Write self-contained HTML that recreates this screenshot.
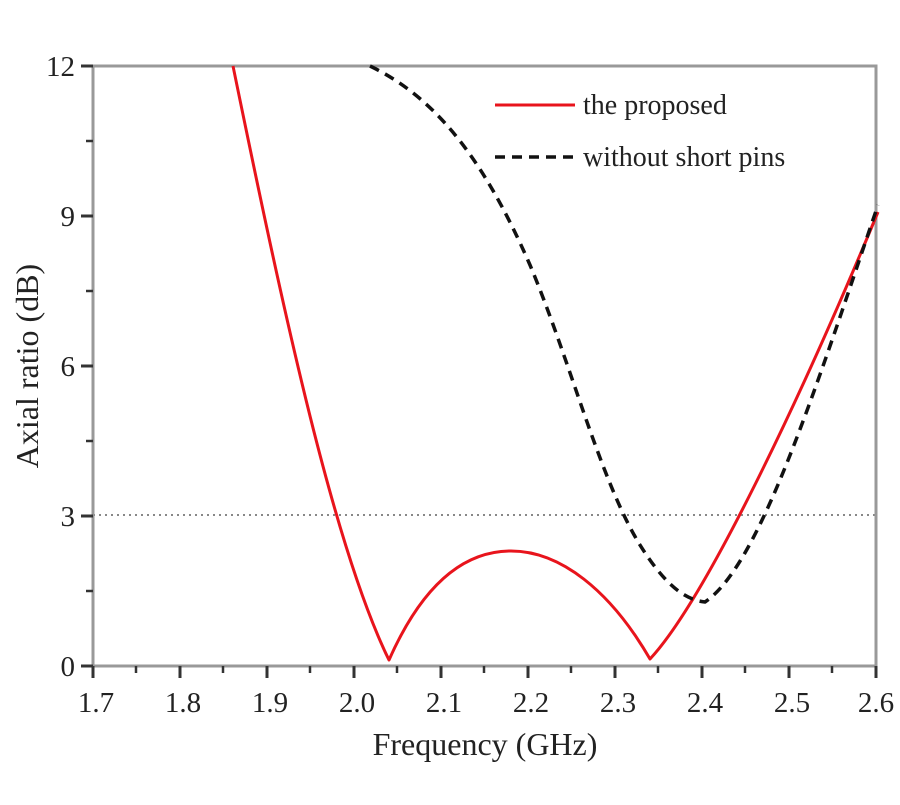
<!DOCTYPE html>
<html><head><style>body{margin:0;background:#fff}</style></head><body>
<svg width="900" height="800" xmlns="http://www.w3.org/2000/svg" font-family="Liberation Serif, serif">
<rect width="900" height="800" fill="#fff"/>
<line x1="93" y1="515" x2="876" y2="515" stroke="#888" stroke-width="2" stroke-dasharray="2,4"/>
<g stroke="#999" stroke-width="3" fill="none">
<rect x="93" y="66" width="783" height="600"/>
</g>
<g stroke="#333" stroke-width="3">
<line x1="93" y1="666" x2="93" y2="678"/><line x1="180" y1="666" x2="180" y2="678"/><line x1="267" y1="666" x2="267" y2="678"/><line x1="354" y1="666" x2="354" y2="678"/><line x1="441" y1="666" x2="441" y2="678"/><line x1="528" y1="666" x2="528" y2="678"/><line x1="615" y1="666" x2="615" y2="678"/><line x1="702" y1="666" x2="702" y2="678"/><line x1="789" y1="666" x2="789" y2="678"/><line x1="876" y1="666" x2="876" y2="678"/>
<line x1="81" y1="66" x2="93" y2="66"/><line x1="81" y1="216" x2="93" y2="216"/><line x1="81" y1="366" x2="93" y2="366"/><line x1="81" y1="516" x2="93" y2="516"/><line x1="81" y1="666" x2="93" y2="666"/>
</g>
<g stroke="#333" stroke-width="2.5">
<line x1="136" y1="666" x2="136" y2="673"/><line x1="223" y1="666" x2="223" y2="673"/><line x1="310" y1="666" x2="310" y2="673"/><line x1="397" y1="666" x2="397" y2="673"/><line x1="484" y1="666" x2="484" y2="673"/><line x1="571" y1="666" x2="571" y2="673"/><line x1="658" y1="666" x2="658" y2="673"/><line x1="745" y1="666" x2="745" y2="673"/><line x1="832" y1="666" x2="832" y2="673"/>
<line x1="86" y1="141" x2="93" y2="141"/><line x1="86" y1="291" x2="93" y2="291"/><line x1="86" y1="441" x2="93" y2="441"/><line x1="86" y1="591" x2="93" y2="591"/>
</g>
<g font-size="29" fill="#222" text-anchor="end">
<text x="75" y="76">12</text><text x="75" y="226">9</text><text x="75" y="376">6</text><text x="75" y="526">3</text><text x="75" y="676">0</text>
</g>
<g font-size="29" fill="#222" text-anchor="middle">
<text x="96" y="712">1.7</text><text x="183" y="712">1.8</text><text x="270" y="712">1.9</text><text x="357" y="712">2.0</text><text x="444" y="712">2.1</text><text x="531" y="712">2.2</text><text x="618" y="712">2.3</text><text x="705" y="712">2.4</text><text x="792" y="712">2.5</text><text x="876" y="712">2.6</text>
</g>
<text x="485" y="755" font-size="32" fill="#222" text-anchor="middle">Frequency (GHz)</text>
<text transform="translate(38,366) rotate(-90)" font-size="32" fill="#222" text-anchor="middle">Axial ratio (dB)</text>
<path d="M233,66 C285,320 335,550 389,660 C420,590 460,551 511,551 C560,551 610,590 650,659 C705,600 800,400 878,212" fill="none" stroke="#e8141c" stroke-width="3" stroke-linejoin="round"/>
<path d="M370,66 C430,95 480,150 530,265 C570,360 600,480 640,545 C665,585 685,600 705,602 C760,565 815,390 878,205" fill="none" stroke="#111" stroke-width="3.5" stroke-dasharray="10,7"/>
<line x1="495" y1="105" x2="575" y2="105" stroke="#e8141c" stroke-width="3"/>
<text x="583" y="114" font-size="28" fill="#222">the proposed</text>
<line x1="495" y1="157" x2="575" y2="157" stroke="#111" stroke-width="3.5" stroke-dasharray="10,7"/>
<text x="583" y="166" font-size="28" fill="#222">without short pins</text>
</svg>
</body></html>
